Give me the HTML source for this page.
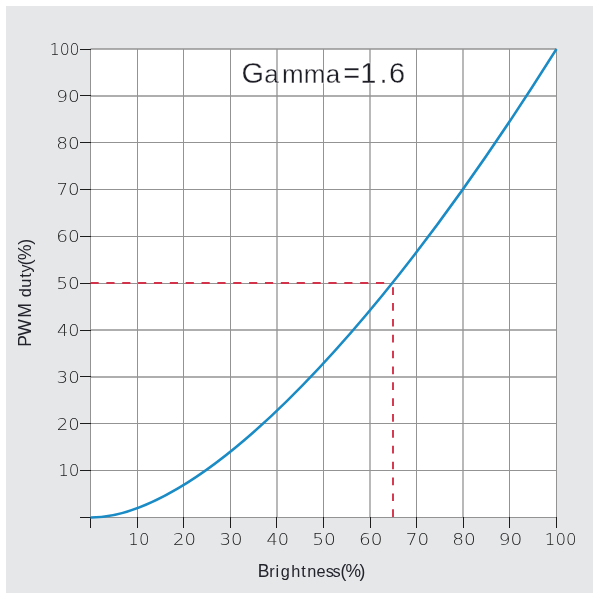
<!DOCTYPE html>
<html><head><meta charset="utf-8"><title>Gamma=1.6</title>
<style>
html,body{margin:0;padding:0;background:#fff;width:600px;height:599px;overflow:hidden}
svg{display:block}
text{font-family:"Liberation Sans",sans-serif}
.tick text{font-family:"DejaVu Sans",sans-serif;font-weight:200;font-size:16.0px;fill:#202020}
.title{font-size:29.0px;fill:#1e1e26;stroke:#fff;stroke-width:0.3px}
.axis{font-size:17.5px;fill:#23232c}
</style></head><body>
<svg width="600" height="599" viewBox="0 0 600 599"><rect x="6" y="6" width="587" height="587" fill="#e6e7e9"/>
<rect x="90.5" y="49.0" width="466.0" height="468.5" fill="#ffffff"/>
<g stroke="#939393" fill="none"><path d="M137.5 49.0V517.5" stroke-width="1"/><path d="M183.5 49.0V517.5" stroke-width="1"/><path d="M230.5 49.0V517.5" stroke-width="1"/><path d="M277.0 49.0V517.5" stroke-width="1.3"/><path d="M323.5 49.0V517.5" stroke-width="1"/><path d="M370.0 49.0V517.5" stroke-width="1.3"/><path d="M416.5 49.0V517.5" stroke-width="1"/><path d="M463.0 49.0V517.5" stroke-width="1.3"/><path d="M509.5 49.0V517.5" stroke-width="1"/><path d="M90.5 96.0H556.5" stroke-width="1.3"/><path d="M90.5 142.5H556.5" stroke-width="1"/><path d="M90.5 189.5H556.5" stroke-width="1"/><path d="M90.5 236.5H556.5" stroke-width="1"/><path d="M90.5 283.5H556.5" stroke-width="1"/><path d="M90.5 330.0H556.5" stroke-width="1.3"/><path d="M90.5 377.0H556.5" stroke-width="1.3"/><path d="M90.5 423.5H556.5" stroke-width="1"/><path d="M90.5 470.5H556.5" stroke-width="1"/></g>
<path d="M90.5 49.0V517.5M556.5 49.0V517.5M90.5 517.5H556.5" stroke="#939393" stroke-width="1" fill="none"/>
<path d="M90.5 49.0H556.5" stroke="#939393" stroke-width="1.3" fill="none"/>
<path d="M80 517.50H91M80 470.50H91M80 423.50H91M80 376.50H91M80 330.50H91M80 283.50H91M80 236.50H91M80 189.50H91M80 142.50H91M80 95.50H91M80 49.50H91M90.5 517V528M137.5 517V528M183.5 517V528M230.5 517V528M276.5 517V528M323.5 517V528M370.5 517V528M416.5 517V528M463.5 517V528M509.5 517V528M556.5 517V528" stroke="#1c1c1c" stroke-width="1" fill="none"/>
<path d="M90.5 283.0H393.0" stroke="#d3334a" stroke-width="1.9" stroke-dasharray="8.2 7.66" fill="none"/>
<path d="M393.0 287.2V517" stroke="#d3334a" stroke-width="1.9" stroke-dasharray="7.7 8.16" fill="none"/>
<path d="M90.50 517.50 C189.95 518.13 359.27 362.59 556.50 49.00" fill="none" stroke="#1a8bc5" stroke-width="2.5"/>
<g class="tick"><text x="58.15" y="476.45" textLength="21.41" lengthAdjust="spacingAndGlyphs">10</text><text x="56.75" y="429.60" textLength="22.92" lengthAdjust="spacingAndGlyphs">20</text><text x="56.62" y="382.75" textLength="23.06" lengthAdjust="spacingAndGlyphs">30</text><text x="57.14" y="335.90" textLength="22.50" lengthAdjust="spacingAndGlyphs">40</text><text x="56.18" y="289.05" textLength="23.54" lengthAdjust="spacingAndGlyphs">50</text><text x="56.20" y="242.20" textLength="23.51" lengthAdjust="spacingAndGlyphs">60</text><text x="56.51" y="195.35" textLength="23.19" lengthAdjust="spacingAndGlyphs">70</text><text x="56.26" y="148.50" textLength="23.45" lengthAdjust="spacingAndGlyphs">80</text><text x="56.20" y="101.65" textLength="23.51" lengthAdjust="spacingAndGlyphs">90</text><text x="49.68" y="54.80" textLength="29.87" lengthAdjust="spacingAndGlyphs">100</text><text x="128.38" y="544.60" textLength="21.05" lengthAdjust="spacingAndGlyphs">10</text><text x="173.05" y="544.60" textLength="22.92" lengthAdjust="spacingAndGlyphs">20</text><text x="219.52" y="544.60" textLength="23.06" lengthAdjust="spacingAndGlyphs">30</text><text x="266.64" y="544.60" textLength="22.50" lengthAdjust="spacingAndGlyphs">40</text><text x="312.28" y="544.60" textLength="23.54" lengthAdjust="spacingAndGlyphs">50</text><text x="358.90" y="544.60" textLength="23.51" lengthAdjust="spacingAndGlyphs">60</text><text x="405.81" y="544.60" textLength="23.19" lengthAdjust="spacingAndGlyphs">70</text><text x="452.16" y="544.60" textLength="23.45" lengthAdjust="spacingAndGlyphs">80</text><text x="498.70" y="544.60" textLength="23.51" lengthAdjust="spacingAndGlyphs">90</text><text x="544.88" y="544.60" textLength="31.66" lengthAdjust="spacingAndGlyphs">100</text></g>
<text class="title" y="82.7"><tspan x="241.58">G</tspan><tspan x="264.22 282.06 303.76 325.72" style="font-size:26.0px">amma</tspan><tspan x="343.29 360.29 379.47 389.09">=1.6</tspan></text>
<text class="axis" y="577"><tspan x="257.81">B</tspan><tspan x="269.23 275.44 280.80 291.33 301.27 307.36 316.48 325.64 332.59" style="font-size:16.3px">rightness</tspan><tspan x="340.49 345.47 359.38">(%)</tspan></text>
<text class="axis" transform="translate(30.7 344.7) rotate(-90)" y="0"><tspan x="-1.99 8.83 26.96 37.16">PWM </tspan><tspan x="47.35 56.88 66.92 72.22" style="font-size:16.3px">duty</tspan><tspan x="79.54 84.82 99.83">(%)</tspan></text></svg>
</body></html>
